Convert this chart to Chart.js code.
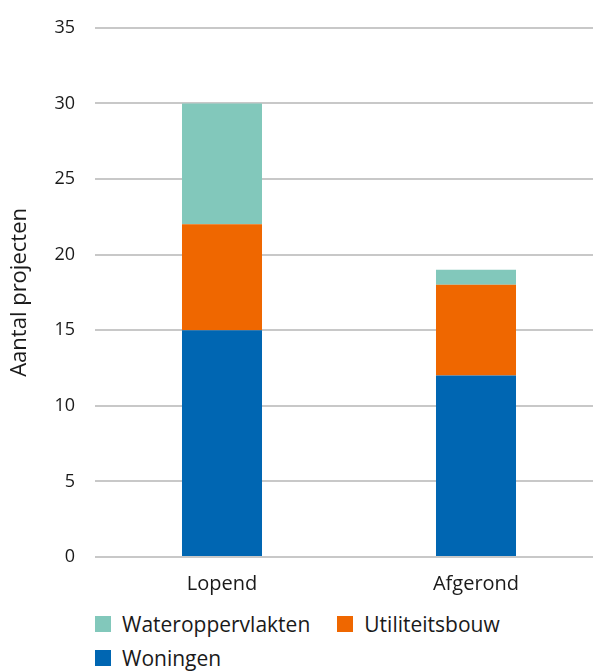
<!DOCTYPE html>
<html>
<head>
<meta charset="utf-8">
<script src="https://cdn.jsdelivr.net/npm/chart.js@4"></script>
<style>
  html, body { margin: 0; padding: 0; background: #fff; overflow: hidden; }
  #wrap { position: relative; top: -3px; width: 603px; height: 600px; }
  #legend { position: absolute; left: 95px; top: 607px; width: 498px;
            font-family: "Open Sans", sans-serif; font-size: 21px; color: #1a1a1a; }
  .item { display: inline-flex; align-items: center; height: 34px; margin-right: 27px; }
  .box { width: 16px; height: 16px; margin-right: 11px; }
</style>
</head>
<body>
<div id="wrap"><canvas id="c" width="603" height="600"></canvas></div>
<div id="legend"></div>
<script>
const categories = ["Lopend", "Afgerond"];
const woningen = [15, 12];
const utiliteitsbouw = [7, 6];
const wateroppervlakten = [8, 1];
const yTicks = [0, 5, 10, 15, 20, 25, 30, 35];

const FONT = "'Open Sans', sans-serif";
const TEXT = "#1a1a1a";
const GRID = "#c8c8c8";

const datasets = [
  { label: "Woningen", data: woningen, backgroundColor: "#0066b2" },
  { label: "Utiliteitsbouw", data: utiliteitsbouw, backgroundColor: "#ef6700" },
  { label: "Wateroppervlakten", data: wateroppervlakten, backgroundColor: "#82c8bb" }
];

const chart = new Chart(document.getElementById("c"), {
  type: "bar",
  data: { labels: categories, datasets: datasets.map(d => Object.assign({ barPercentage: 0.315, categoryPercentage: 1 }, d)) },
  options: {
    responsive: false,
    animation: false,
    layout: { padding: { top: 21, right: 0, left: 0, bottom: 0 } },
    plugins: { legend: { display: false }, tooltip: { enabled: false } },
    scales: {
      x: {
        stacked: true,
        grid: { display: false, drawTicks: false },
        border: { display: false },
        ticks: { color: TEXT, font: { family: FONT, size: 20 }, padding: 15 },
        afterFit: s => { s.height = 40; }
      },
      y: {
        stacked: true,
        min: 0, max: 35,
        afterBuildTicks: s => { s.ticks = yTicks.map(v => ({ value: v })); },
        grid: { color: GRID, lineWidth: 2, drawTicks: false },
        border: { display: false },
        ticks: { color: TEXT, font: { family: FONT, size: 18 }, padding: 20 },
        title: { display: true, text: "Aantal projecten", color: TEXT, font: { family: FONT, size: 22 }, padding: { top: 7, bottom: 0 } },
        afterFit: s => { s.width = 95; }
      }
    }
  }
});

// legend, top of the stack first
const legend = document.getElementById("legend");
datasets.slice().reverse().forEach(d => {
  const item = document.createElement("span");
  item.className = "item";
  const box = document.createElement("span");
  box.className = "box";
  box.style.background = d.backgroundColor;
  item.appendChild(box);
  item.appendChild(document.createTextNode(d.label));
  legend.appendChild(item);
});
</script>
</body>
</html>
